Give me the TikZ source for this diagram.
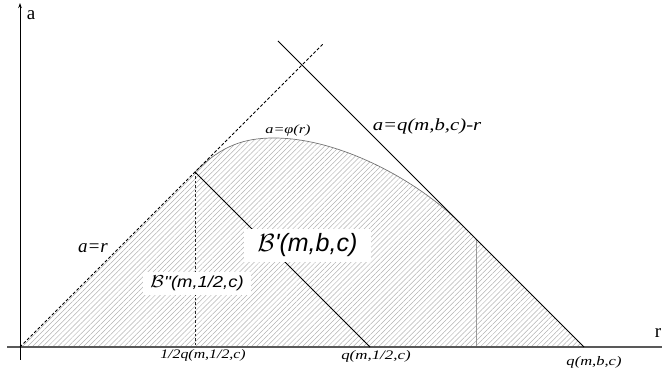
\documentclass[tikz,border=0pt]{standalone}
\usepackage{fontspec}
\setmainfont{Liberation Serif}
\newfontfamily\arialf{Liberation Sans}
\usetikzlibrary{patterns.meta,arrows.meta}
\newcommand{\hsc}[2]{\scalebox{#1}[1]{#2}}
\newcommand{\fsz}[1]{\fontsize{#1}{#1}\selectfont}
\begin{document}
\begin{tikzpicture}[x=1pt,y=-1pt,
  lbl/.style={inner sep=0pt, font=\itshape},
  axislbl/.style={inner sep=0pt},
  dashline/.style={dash pattern=on 3pt off 2pt, line width=0.9pt},
  fineDash/.style={dash pattern=on 2.5pt off 2pt, line width=0.6pt, black!85},
  hatch/.style={pattern={Lines[angle=45,distance=3.6pt,line width=0.5pt]}, pattern color=black!30},
  boxlbl/.style={fill=white, inner sep=0pt, font=\arialf\itshape}]
\useasboundingbox (0,0) rectangle (662,374);
% key points
\coordinate (O) at (20,347);
\coordinate (D) at (323,44);
\coordinate (T) at (278,41);
\coordinate (Q) at (584,347);
\coordinate (P) at (195,172);
\coordinate (H) at (195,347);
\coordinate (Qh) at (370,347);
\coordinate (K) at (274,138);
\coordinate (Tg) at (460,223);
\coordinate (G) at (476,347);
\coordinate (Gt) at (476,239);
\coordinate (ax0) at (7,347);
\coordinate (ax1) at (662,347);
\coordinate (ay0) at (20,360);
\coordinate (ay1) at (20,3);
% hatched region
\fill[hatch] (O) -- (P) .. controls (222,145) and (245,138) .. (K)
  .. controls (340,138) and (418,181) .. (Tg) -- (Q) -- cycle;
% curve phi
\draw[black!55, line width=0.7pt] (P) .. controls (222,145) and (245,138) .. (K)
  .. controls (340,138) and (418,181) .. (Tg);
% vertical lines
\draw[fineDash] (P) -- (H);
\draw[black!40, line width=0.6pt] (Gt) -- (G);
% axes
\draw[black!65, line width=1.6pt] (ax0) -- (ax1);
\draw[line width=0.8pt, -{Stealth[length=5pt,width=3.5pt]}] (ay0) -- (ay1);
% lines
\draw[dashline] (O) -- (D);
\draw[line width=1pt] (T) -- (Q);
\draw[line width=1pt] (P) -- (Qh);
% labels
\node[axislbl] (la) at (31,15) {\fsz{19}a};
\node[axislbl] (lr) at (658,333) {\fsz{19}r};
\node[lbl] (lar) at (93,248) {\fsz{19}\hsc{1.0}{a=r}};
\node[lbl] (lphi) at (288,130) {\fsz{12.5}\hsc{1.3}{a=φ(r)}};
\node[lbl] (lq) at (427,126) {\fsz{17}\hsc{1.22}{a=q(m,b,c)-r}};
\node[lbl] (x1) at (203,355) {\fsz{13}\hsc{1.22}{1/2q(m,1/2,c)}};
\node[lbl] (x2) at (376,356) {\fsz{13}\hsc{1.3}{q(m,1/2,c)}};
\node[lbl] (x3) at (594,362) {\fsz{13}\hsc{1.27}{q(m,b,c)}};
\node[boxlbl, minimum width=127pt, minimum height=33pt] (B1) at (307.5,245.5) {\fsz{25}$\mathcal{B}$'(m,b,c)};
\node[boxlbl, minimum width=108pt, minimum height=23pt] (B2) at (197,283.5) {\fsz{16}\hsc{1.15}{$\mathcal{B}$''(m,1/2,c)}};
\end{tikzpicture}
\end{document}
